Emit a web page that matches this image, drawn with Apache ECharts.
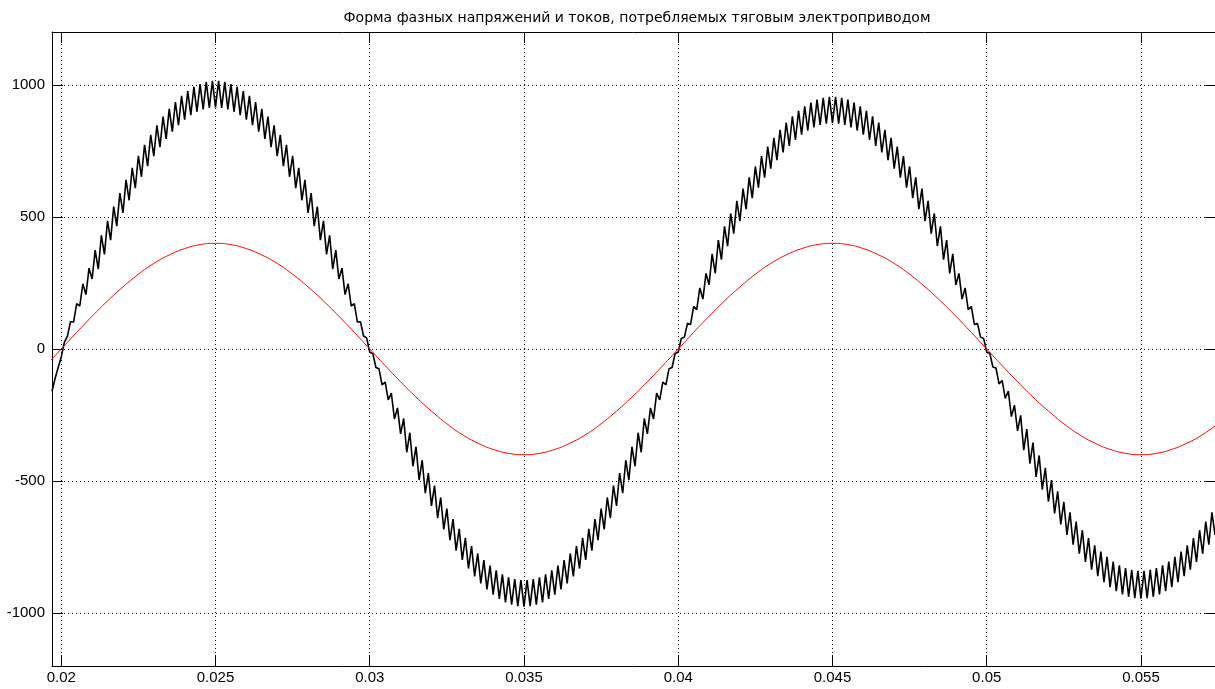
<!DOCTYPE html>
<html>
<head>
<meta charset="utf-8">
<script src="https://cdn.jsdelivr.net/npm/echarts@6/dist/echarts.min.js"></script>
<style>
  html, body { margin: 0; padding: 0; background: #fff; }
  #main { width: 1215px; height: 689px; }
</style>
</head>
<body>
<div id="main"></div>
<script>
// Форма фазных напряжений и токов (осциллограмма)
var titleText = 'Форма фазных напряжений и токов, потребляемых тяговым электроприводом';

var xTicks = [0.02, 0.025, 0.03, 0.035, 0.04, 0.045, 0.05, 0.055];
var yTicks = [-1000, -500, 0, 500, 1000];

// напряжение (чёрная кривая), отсчёты через 0.0001 с начиная с 0.0197
var blackStart = 0.0197;
var blackStep = 0.0001;
var blackValues = [
  -160, -112, -70,
  -30, 25, 49, 103, 102, 172, 162, 247, 206, 306, 265,
  374, 302, 430, 358, 485, 412, 539, 465, 590, 515, 640, 563, 686, 609, 731, 652, 773, 692, 811, 730,
  847, 764, 880, 795, 909, 823, 935, 847, 958, 868, 976, 885, 992, 898, 1003, 907, 1011, 913, 1015, 915,
  1015, 913, 1011, 907, 1003, 898, 992, 885, 976, 868, 958, 847, 935, 823, 909, 795, 880, 764, 847, 730,
  811, 692, 773, 652, 731, 609, 686, 563, 640, 515, 590, 465, 539, 412, 485, 358, 430, 302, 374,
  265, 306, 206, 247, 162, 172, 102, 103, 49, 42,
  -12, -17, -70, -75, -136, -125, -193, -167, -265, -223, -321,
  -263, -391, -317, -444, -370, -496, -421, -546, -470, -594, -517, -640, -562, -683, -604, -724, -644, -763, -681,
  -798, -715, -831, -746, -861, -774, -887, -799, -910, -820, -930, -838, -946, -853, -959, -864, -968, -871, -973, -875,
  -975, -875, -973, -871, -968, -864, -959, -853, -946, -838, -930, -820, -910, -799, -887, -774, -861, -746, -831, -715,
  -798, -681, -763, -644, -724, -604, -683, -562, -640, -517, -594, -470, -546, -421, -496, -370, -444, -317, -391, -263,
  -321, -223, -265, -167, -193, -125, -136, -75, -70, -17,
  -12, 40, 45, 97, 93, 161, 149, 231, 189, 286, 243,
  360, 286, 412, 338, 464, 389, 513, 437, 561, 484, 607, 529, 650, 571, 691, 611, 730, 649, 766, 683,
  799, 715, 830, 744, 857, 769, 881, 792, 902, 811, 919, 827, 933, 839, 944, 848, 951, 853, 955, 855,
  955, 853, 951, 848, 944, 839, 933, 827, 919, 811, 902, 792, 881, 769, 857, 744, 830, 715, 799, 683,
  766, 649, 730, 611, 691, 571, 650, 529, 607, 484, 561, 437, 513, 389, 464, 338, 412, 286, 360,
  243, 286, 189, 231, 149, 161, 93, 97, 45, 40,
  -12, -16, -68, -72, -132, -119, -187, -159, -256, -213, -310,
  -251, -383, -303, -434, -354, -484, -403, -532, -450, -578, -496, -622, -539, -664, -579, -704, -618, -741, -653,
  -775, -686, -806, -716, -835, -743, -860, -767, -883, -787, -902, -805, -917, -819, -929, -829, -938, -836, -943, -840,
  -945, -840, -943, -836, -938, -829, -929, -819, -917, -805, -902, -787, -883, -767, -860, -743, -835, -716, -806, -686,
  -775, -653, -741, -618, -704
];

// ток (красная кривая), отсчёты через 0.0005 с начиная с 0.0195
var redStart = 0.0195;
var redStep = 0.0005;
var redValues = [
  -63, 0,
  63, 124, 182, 235, 283, 324, 356, 380, 395, 400, 395, 380, 356, 324, 283, 235, 182, 124, 63,
  0,
  -63, -124, -182, -235, -283, -324, -356, -380, -395, -400, -395, -380, -356, -324, -283, -235, -182, -124, -63,
  0,
  63, 124, 182, 235, 283, 324, 356, 380, 395, 400, 395, 380, 356, 324, 283, 235, 182, 124, 63,
  0,
  -63, -124, -182, -235, -283, -324, -356, -380, -395, -400, -395, -380, -356, -324, -283
];

function toPairs(start, step, vals) {
  var out = [];
  for (var i = 0; i < vals.length; i++) {
    out.push([+(start + i * step).toFixed(5), vals[i]]);
  }
  return out;
}

var chart = echarts.init(document.getElementById('main'));
var gridDots = { color: '#111', width: 1, type: [1, 3] };
var lblFont = { color: '#000', fontSize: 15, fontFamily: 'Liberation Sans, Arial, sans-serif' };
var boxLine = { onZero: false, lineStyle: { color: '#000', width: 1 } };
var tickStyle = { color: '#000', width: 1 };

var option = {
  animation: false,
  backgroundColor: '#fff',
  title: {
    text: titleText,
    left: 632,
    top: 6,
    textAlign: 'center',
    textStyle: { fontSize: 14, fontWeight: 'normal', color: '#000', fontFamily: 'DejaVu Sans, sans-serif' }
  },
  grid: { left: 52, top: 32, right: -2, bottom: 23 },
  xAxis: [
    {
      type: 'value', min: 0.0197, max: 0.0574, position: 'bottom',
      axisLine: boxLine,
      axisTick: { inside: true, length: 11, customValues: xTicks, lineStyle: tickStyle },
      axisLabel: Object.assign({
        customValues: xTicks, margin: 4,
        formatter: function (v) { return String(v); }
      }, lblFont),
      splitLine: { show: true, lineStyle: gridDots }
    },
    {
      type: 'value', min: 0.0197, max: 0.0574, position: 'top',
      axisLine: boxLine,
      axisTick: { inside: true, length: 11, customValues: xTicks, lineStyle: tickStyle },
      axisLabel: { show: false },
      splitLine: { show: false }
    }
  ],
  yAxis: [
    {
      type: 'value', min: -1200, max: 1200, position: 'left',
      axisLine: Object.assign({ show: true }, boxLine),
      axisTick: { show: true, inside: true, length: 11, customValues: yTicks, lineStyle: tickStyle },
      axisLabel: Object.assign({
        customValues: yTicks, margin: 7,
        formatter: function (v) { return String(v); }
      }, lblFont),
      splitLine: { show: true, lineStyle: gridDots }
    },
    {
      type: 'value', min: -1200, max: 1200, position: 'right',
      axisLine: Object.assign({ show: true }, boxLine),
      axisTick: { show: true, inside: true, length: 11, customValues: yTicks, lineStyle: tickStyle },
      axisLabel: { show: false },
      splitLine: { show: false }
    }
  ],
  series: [
    {
      name: 'U', type: 'line', xAxisIndex: 0, yAxisIndex: 0,
      data: toPairs(blackStart, blackStep, blackValues),
      showSymbol: false, symbol: 'none',
      lineStyle: { color: '#000', width: 1.6 }
    },
    {
      name: 'I', type: 'line', xAxisIndex: 0, yAxisIndex: 0,
      data: toPairs(redStart, redStep, redValues),
      showSymbol: false, symbol: 'none', smooth: true,
      lineStyle: { color: '#ff0000', width: 1 }
    }
  ]
};

chart.setOption(option);
</script>
</body>
</html>
